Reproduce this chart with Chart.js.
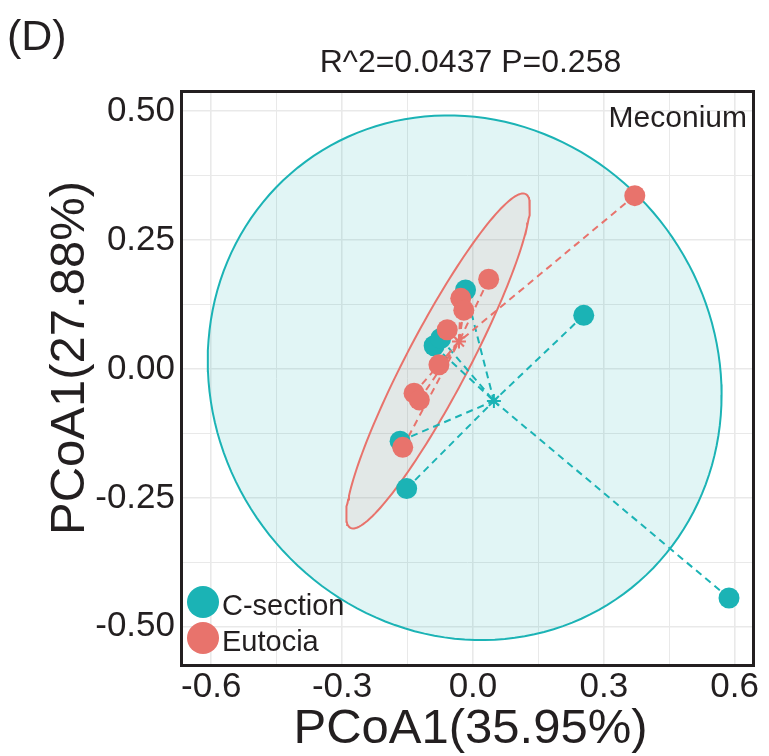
<!DOCTYPE html>
<html>
<head>
<meta charset="utf-8">
<script src="https://cdn.jsdelivr.net/npm/chart.js@4/dist/chart.umd.min.js"></script>
<style>
  html, body { margin: 0; padding: 0; background: #ffffff; }
  #wrap { width: 769px; height: 756px; position: relative; }
</style>
</head>
<body>
<div id="wrap"><canvas id="c" width="769" height="756"></canvas></div>
<script>
// ---------- data ----------
const groups = ['C-section', 'Eutocia'];
const csX = [0.254, 0.587, -0.017, -0.089, -0.074, -0.167, -0.152];
const csY = [0.104, -0.444, 0.153, 0.045, 0.059, -0.140, -0.232];
const euX = [0.371, 0.036, -0.028, -0.021, -0.059, -0.078, -0.135, -0.123, -0.161];
const euY = [0.336, 0.174, 0.137, 0.114, 0.076, 0.008, -0.047, -0.060, -0.152];
const csCentroid = [0.048, -0.062];
const euCentroid = [-0.032, 0.053];
// confidence ellipses: centre and two axis vectors (data units)
const csEllipseCenter = [-0.019, -0.017];
const csEllipseA = [0.589, -0.033];
const csEllipseB = [0.0, -0.5076];
const euEllipseCenter = [-0.080, 0.0155];
const euEllipseA = [0.201, 0.3236];
const euEllipseB = [0.0628, -0.0279];
// axes
const xGrid = [-0.6, -0.45, -0.3, -0.15, 0, 0.15, 0.3, 0.45, 0.6];
const xTickLabels = ['-0.6', '', '-0.3', '', '0.0', '', '0.3', '', '0.6'];
const yGrid = [-0.5, -0.375, -0.25, -0.125, 0, 0.125, 0.25, 0.375, 0.5];
const yTickLabels = ['-0.50', '', '-0.25', '', '0.00', '', '0.25', '', '0.50'];
const xTitle = 'PCoA1(35.95%)';
const yTitle = 'PCoA1(27.88%)';
const plotTitle = 'R^2=0.0437 P=0.258';
const panelTag = '(D)';
const facetLabel = 'Meconium';

// ---------- styling ----------
const TEAL = '#1bb3b5';
const RED = '#e8736c';
const INK = '#231f20';
const FONT = '"Liberation Sans", Arial, Helvetica, sans-serif';

function pts(xs, ys) { return xs.map((x, i) => ({x: x, y: ys[i]})); }
function spider(xs, ys, c) {
  const out = [];
  xs.forEach((x, i) => { out.push({x: x, y: ys[i]}); out.push({x: c[0], y: c[1]}); out.push({x: x, y: null}); });
  return out;
}
function ellipse(c, a, b) {
  const out = [];
  const n = 160;
  for (let i = 0; i <= n; i++) {
    const t = 2 * Math.PI * i / n;
    out.push({x: c[0] + a[0] * Math.cos(t) + b[0] * Math.sin(t),
              y: c[1] + a[1] * Math.cos(t) + b[1] * Math.sin(t)});
  }
  return out;
}

const decor = {
  id: 'decor',
  afterDraw(chart) {
    const ctx = chart.ctx;
    const a = chart.chartArea;
    ctx.save();
    // panel border
    ctx.strokeStyle = INK;
    ctx.lineWidth = 3;
    ctx.strokeRect(a.left - 0.5, a.top - 0.5, a.right - a.left + 1, a.bottom - a.top + 1);
    ctx.fillStyle = INK;
    ctx.textBaseline = 'alphabetic';
    // tag
    ctx.font = '43px ' + FONT;
    ctx.textAlign = 'left';
    ctx.fillText(panelTag, 7, 50);
    // title
    ctx.font = '32px ' + FONT;
    ctx.textAlign = 'center';
    ctx.fillText(plotTitle, (a.left + a.right) / 2 + 3, 72);
    // axis titles
    ctx.font = '49px ' + FONT;
    ctx.textBaseline = 'middle';
    ctx.fillText(xTitle, (a.left + a.right) / 2 + 3, 729);
    ctx.save();
    ctx.translate(70, 358);
    ctx.rotate(-Math.PI / 2);
    ctx.fillText(yTitle, 0, 0);
    ctx.restore();
    ctx.textBaseline = 'alphabetic';
    // facet label
    ctx.font = '30px ' + FONT;
    ctx.textAlign = 'right';
    ctx.fillText(facetLabel, a.right - 6, a.top + 35);
    // legend
    const colors = [TEAL, RED];
    const ys = [a.bottom - 63, a.bottom - 27];
    groups.forEach((g, i) => {
      ctx.beginPath();
      ctx.fillStyle = colors[i];
      ctx.arc(a.left + 21, ys[i], 16, 0, 2 * Math.PI);
      ctx.fill();
      ctx.fillStyle = INK;
      ctx.font = '29px ' + FONT;
      ctx.textAlign = 'left';
      ctx.fillText(g, a.left + 40, ys[i] + 13);
    });
    ctx.restore();
  }
};

const ctx = document.getElementById('c').getContext('2d');
new Chart(ctx, {
  type: 'scatter',
  data: {
    datasets: [
      { label: 'csEllipse', type: 'line', data: ellipse(csEllipseCenter, csEllipseA, csEllipseB),
        borderColor: TEAL, borderWidth: 2, backgroundColor: 'rgba(27,179,181,0.13)', fill: 'shape',
        pointRadius: 0, order: 10 },
      { label: 'euEllipse', type: 'line', data: ellipse(euEllipseCenter, euEllipseA, euEllipseB),
        borderColor: RED, borderWidth: 2, backgroundColor: 'rgba(232,115,108,0.10)', fill: 'shape',
        pointRadius: 0, order: 9 },
      { label: 'csSpider', type: 'line', data: spider(csX, csY, csCentroid),
        borderColor: TEAL, borderWidth: 2, borderDash: [7, 5], fill: false, spanGaps: false,
        pointRadius: 0, order: 8 },
      { label: 'euSpider', type: 'line', data: spider(euX, euY, euCentroid),
        borderColor: RED, borderWidth: 2, borderDash: [7, 5], fill: false, spanGaps: false,
        pointRadius: 0, order: 7 },
      { label: groups[0], data: pts(csX, csY), backgroundColor: TEAL, borderWidth: 0,
        pointRadius: 10.5, order: 6 },
      { label: groups[1], data: pts(euX, euY), backgroundColor: RED, borderWidth: 0,
        pointRadius: 10.5, order: 5 },
      { label: 'csCentroid', data: [{x: csCentroid[0], y: csCentroid[1]}], pointStyle: 'star',
        borderColor: TEAL, backgroundColor: TEAL, borderWidth: 2, pointRadius: 7, order: 4 },
      { label: 'euCentroid', data: [{x: euCentroid[0], y: euCentroid[1]}], pointStyle: 'star',
        borderColor: RED, backgroundColor: RED, borderWidth: 2, pointRadius: 7, order: 3 }
    ]
  },
  options: {
    responsive: false,
    animation: false,
    layout: { padding: { left: 0, top: 92, right: 16, bottom: 0 } },
    plugins: { legend: { display: false }, tooltip: { enabled: false }, title: { display: false } },
    elements: { line: { tension: 0 } },
    scales: {
      x: {
        type: 'linear', min: -0.667, max: 0.642,
        afterBuildTicks: s => { s.ticks = xGrid.map(v => ({value: v})); },
        afterFit: s => { s.height = 91; },
        ticks: { callback: (v, i) => xTickLabels[i], color: INK, padding: 1,
                 font: { family: FONT, size: 35, lineHeight: 1.2 }, maxRotation: 0, autoSkip: false },
        grid: { color: '#e9e9e9', lineWidth: c => (c.index % 2 === 0 ? 1.6 : 1), drawTicks: false },
        border: { display: false },
        title: { display: false, text: xTitle }
      },
      y: {
        type: 'linear', min: -0.574, max: 0.537,
        afterBuildTicks: s => { s.ticks = yGrid.map(v => ({value: v})); },
        afterFit: s => { s.width = 182; },
        ticks: { callback: (v, i) => yTickLabels[i], color: INK, padding: 7,
                 font: { family: FONT, size: 35, lineHeight: 1.2 }, autoSkip: false },
        grid: { color: '#e9e9e9', lineWidth: c => (c.index % 2 === 0 ? 1.6 : 1), drawTicks: false },
        border: { display: false },
        title: { display: false, text: yTitle }
      }
    }
  },
  plugins: [decor]
});
</script>
</body>
</html>
